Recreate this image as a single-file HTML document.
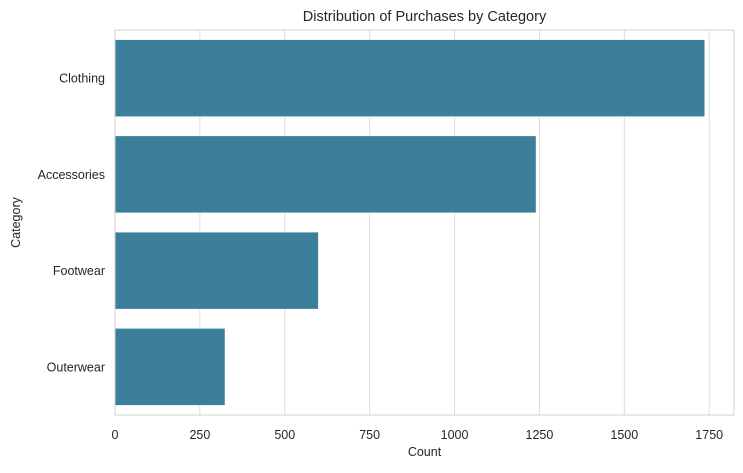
<!DOCTYPE html>
<html><head><meta charset="utf-8"><style>
body{margin:0;background:#fff;font-family:"Liberation Sans",sans-serif}
svg text{font-family:"Liberation Sans",sans-serif;fill:#262626}
</style></head><body>
<svg id="chart" width="743" height="468"></svg>
<script>
const categories=["Clothing","Accessories","Footwear","Outerwear"];
const counts=[1737,1240,599,324];
const ticks=[0,250,500,750,1000,1250,1500,1750];
const NS="http://www.w3.org/2000/svg";
const svg=document.getElementById('chart');
const L=115,R=734,T=30,B=415,xmax=1823;
const x=v=>L+(v/xmax)*(R-L);
const band=(B-T)/categories.length;
const yc=i=>T+band*(i+0.5);
function mk(t,a,p){const e=document.createElementNS(NS,t);for(const k in a)e.setAttribute(k,a[k]);(p||svg).appendChild(e);return e;}
ticks.forEach(t=>{
 const g=mk('line',{x1:x(t),x2:x(t),y1:T,y2:B,stroke:'#dcdcdc','stroke-width':1});
 
 
 const l=mk('text',{x:x(t),y:B+24,'text-anchor':'middle','font-size':12.5});
 l.textContent=t;
 
 
});
categories.forEach((c,i)=>{
 const h=band*0.8;
 const r=mk('rect',{x:x(0),y:yc(i)-h/2,width:x(counts[i])-x(0),height:h,fill:'#3c7f9c',stroke:'#ffffff','stroke-width':0.5});
 
 
 const l=mk('text',{x:L-10,y:yc(i)+4.5,'text-anchor':'end','font-size':12.5});
 l.textContent=c;
 
 
});
const f=mk('rect',{x:L,y:T,width:R-L,height:B-T,fill:'none',stroke:'#d0d0d0','stroke-width':1});


const ti=mk('text',{x:(L+R)/2,y:21,'text-anchor':'middle','font-size':14.5});
ti.textContent='Distribution of Purchases by Category';


const xt=mk('text',{x:(L+R)/2,y:456,'text-anchor':'middle','font-size':12.5});
xt.textContent='Count';


const yt=mk('text',{x:20,y:(T+B)/2,'text-anchor':'middle','font-size':12.5,transform:`rotate(-90 20 ${(T+B)/2})`});
yt.textContent='Category';


</script>
</body></html>
